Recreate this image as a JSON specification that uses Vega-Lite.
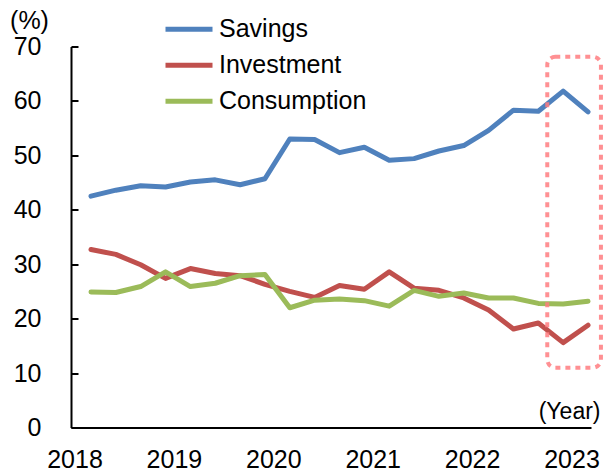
{
  "$schema": "https://vega.github.io/schema/vega-lite/v6.json",
  "width": 520,
  "height": 381,
  "autosize": {"type": "none"},
  "padding": {"left": 71, "top": 46.5, "right": 12, "bottom": 46.5},
  "background": "white",
  "config": {"view": {"stroke": null}, "font": "Liberation Sans"},
  "datasets": {
    "series": [
      {"quarter": "2018Q1", "t": 2018.00, "series": "Savings", "value": 42.5},
      {"quarter": "2018Q2", "t": 2018.25, "series": "Savings", "value": 43.6},
      {"quarter": "2018Q3", "t": 2018.50, "series": "Savings", "value": 44.4},
      {"quarter": "2018Q4", "t": 2018.75, "series": "Savings", "value": 44.2},
      {"quarter": "2019Q1", "t": 2019.00, "series": "Savings", "value": 45.1},
      {"quarter": "2019Q2", "t": 2019.25, "series": "Savings", "value": 45.5},
      {"quarter": "2019Q3", "t": 2019.50, "series": "Savings", "value": 44.6},
      {"quarter": "2019Q4", "t": 2019.75, "series": "Savings", "value": 45.7},
      {"quarter": "2020Q1", "t": 2020.00, "series": "Savings", "value": 53.0},
      {"quarter": "2020Q2", "t": 2020.25, "series": "Savings", "value": 52.9},
      {"quarter": "2020Q3", "t": 2020.50, "series": "Savings", "value": 50.5},
      {"quarter": "2020Q4", "t": 2020.75, "series": "Savings", "value": 51.5},
      {"quarter": "2021Q1", "t": 2021.00, "series": "Savings", "value": 49.1},
      {"quarter": "2021Q2", "t": 2021.25, "series": "Savings", "value": 49.4},
      {"quarter": "2021Q3", "t": 2021.50, "series": "Savings", "value": 50.8},
      {"quarter": "2021Q4", "t": 2021.75, "series": "Savings", "value": 51.8},
      {"quarter": "2022Q1", "t": 2022.00, "series": "Savings", "value": 54.6},
      {"quarter": "2022Q2", "t": 2022.25, "series": "Savings", "value": 58.3},
      {"quarter": "2022Q3", "t": 2022.50, "series": "Savings", "value": 58.1},
      {"quarter": "2022Q4", "t": 2022.75, "series": "Savings", "value": 61.8},
      {"quarter": "2023Q1", "t": 2023.00, "series": "Savings", "value": 58.0},
      {"quarter": "2018Q1", "t": 2018.00, "series": "Investment", "value": 32.7},
      {"quarter": "2018Q2", "t": 2018.25, "series": "Investment", "value": 31.8},
      {"quarter": "2018Q3", "t": 2018.50, "series": "Investment", "value": 29.9},
      {"quarter": "2018Q4", "t": 2018.75, "series": "Investment", "value": 27.4},
      {"quarter": "2019Q1", "t": 2019.00, "series": "Investment", "value": 29.2},
      {"quarter": "2019Q2", "t": 2019.25, "series": "Investment", "value": 28.3},
      {"quarter": "2019Q3", "t": 2019.50, "series": "Investment", "value": 27.9},
      {"quarter": "2019Q4", "t": 2019.75, "series": "Investment", "value": 26.3},
      {"quarter": "2020Q1", "t": 2020.00, "series": "Investment", "value": 25.0},
      {"quarter": "2020Q2", "t": 2020.25, "series": "Investment", "value": 23.9},
      {"quarter": "2020Q3", "t": 2020.50, "series": "Investment", "value": 26.1},
      {"quarter": "2020Q4", "t": 2020.75, "series": "Investment", "value": 25.4},
      {"quarter": "2021Q1", "t": 2021.00, "series": "Investment", "value": 28.6},
      {"quarter": "2021Q2", "t": 2021.25, "series": "Investment", "value": 25.6},
      {"quarter": "2021Q3", "t": 2021.50, "series": "Investment", "value": 25.2},
      {"quarter": "2021Q4", "t": 2021.75, "series": "Investment", "value": 23.8},
      {"quarter": "2022Q1", "t": 2022.00, "series": "Investment", "value": 21.6},
      {"quarter": "2022Q2", "t": 2022.25, "series": "Investment", "value": 18.1},
      {"quarter": "2022Q3", "t": 2022.50, "series": "Investment", "value": 19.2},
      {"quarter": "2022Q4", "t": 2022.75, "series": "Investment", "value": 15.6},
      {"quarter": "2023Q1", "t": 2023.00, "series": "Investment", "value": 18.8},
      {"quarter": "2018Q1", "t": 2018.00, "series": "Consumption", "value": 24.9},
      {"quarter": "2018Q2", "t": 2018.25, "series": "Consumption", "value": 24.8},
      {"quarter": "2018Q3", "t": 2018.50, "series": "Consumption", "value": 25.9},
      {"quarter": "2018Q4", "t": 2018.75, "series": "Consumption", "value": 28.6},
      {"quarter": "2019Q1", "t": 2019.00, "series": "Consumption", "value": 25.9},
      {"quarter": "2019Q2", "t": 2019.25, "series": "Consumption", "value": 26.5},
      {"quarter": "2019Q3", "t": 2019.50, "series": "Consumption", "value": 27.9},
      {"quarter": "2019Q4", "t": 2019.75, "series": "Consumption", "value": 28.1},
      {"quarter": "2020Q1", "t": 2020.00, "series": "Consumption", "value": 22.0},
      {"quarter": "2020Q2", "t": 2020.25, "series": "Consumption", "value": 23.4},
      {"quarter": "2020Q3", "t": 2020.50, "series": "Consumption", "value": 23.6},
      {"quarter": "2020Q4", "t": 2020.75, "series": "Consumption", "value": 23.3},
      {"quarter": "2021Q1", "t": 2021.00, "series": "Consumption", "value": 22.3},
      {"quarter": "2021Q2", "t": 2021.25, "series": "Consumption", "value": 25.2},
      {"quarter": "2021Q3", "t": 2021.50, "series": "Consumption", "value": 24.1},
      {"quarter": "2021Q4", "t": 2021.75, "series": "Consumption", "value": 24.7},
      {"quarter": "2022Q1", "t": 2022.00, "series": "Consumption", "value": 23.8},
      {"quarter": "2022Q2", "t": 2022.25, "series": "Consumption", "value": 23.8},
      {"quarter": "2022Q3", "t": 2022.50, "series": "Consumption", "value": 22.8},
      {"quarter": "2022Q4", "t": 2022.75, "series": "Consumption", "value": 22.7},
      {"quarter": "2023Q1", "t": 2023.00, "series": "Consumption", "value": 23.2}
    ],
    "highlight": [
      {"t0": 2022.59, "t1": 2023.13, "v0": 11.0, "v1": 68.1}
    ]
  },
  "resolve": {"scale": {"y": "independent"}, "axis": {"y": "independent"}},
  "layer": [
    {
      "data": {"name": "series"},
      "mark": {"type": "line", "strokeWidth": 5, "strokeJoin": "round", "strokeCap": "round"},
      "encoding": {
        "x": {
          "field": "t", "type": "quantitative",
          "scale": {"domain": [2017.799, 2023.03], "nice": false, "zero": false},
          "axis": {
            "values": [2017.834, 2018.834, 2019.834, 2020.834, 2021.834, 2022.834],
            "labelExpr": "toString(round(datum.value))",
            "ticks": false, "tickSize": 0,
            "labelPadding": 20, "labelFontSize": 25, "labelColor": "black",
            "labelFlush": false, "labelOverlap": false,
            "domainColor": "black", "domainWidth": 2, "grid": false,
            "title": "(Year)", "titleX": 529, "titleY": -16,
            "titleAlign": "right", "titleBaseline": "middle",
            "titleFontSize": 23, "titleFontWeight": "normal", "titleColor": "black"
          }
        },
        "y": {
          "field": "value", "type": "quantitative",
          "scale": {"domain": [0, 70], "nice": false},
          "axis": {
            "values": [0, 10, 20, 30, 40, 50, 60, 70],
            "ticks": false, "tickSize": 0,
            "labelPadding": 30, "labelFontSize": 25, "labelColor": "black",
            "domainColor": "black", "domainWidth": 2, "grid": false,
            "title": "(%)", "titleAngle": 0, "titleX": -42, "titleY": -26,
            "titleAlign": "center", "titleBaseline": "middle",
            "titleFontSize": 25, "titleFontWeight": "normal", "titleColor": "black"
          }
        },
        "color": {
          "field": "series", "type": "nominal",
          "scale": {"domain": ["Savings", "Investment", "Consumption"], "range": ["#4F81BD", "#C0504D", "#9BBB59"]},
          "legend": {
            "orient": "none", "legendX": 92, "legendY": -35, "title": null,
            "symbolType": "stroke", "symbolSize": 2209, "symbolStrokeWidth": 5,
            "labelFontSize": 25, "labelOffset": 4, "labelColor": "black",
            "rowPadding": 0, "clipHeight": 35.5, "padding": 0
          }
        }
      }
    },
    {
      "data": {"name": "highlight"},
      "mark": {"type": "rect", "filled": false, "stroke": "#FF7C80", "strokeOpacity": 0.85, "strokeWidth": 4, "strokeDash": [5, 5], "cornerRadius": 8, "clip": false},
      "encoding": {
        "x": {"field": "t0", "type": "quantitative"},
        "x2": {"field": "t1"},
        "y": {
          "field": "v0", "type": "quantitative",
          "scale": {"domain": [0, 70], "nice": false},
          "axis": {
            "orient": "right", "offset": -520,
            "values": [0, 10, 20, 30, 40, 50, 60, 70],
            "labels": false, "domain": false, "grid": false, "title": null,
            "ticks": true, "tickSize": 7, "tickWidth": 2, "tickColor": "black"
          }
        },
        "y2": {"field": "v1"}
      }
    }
  ]
}
